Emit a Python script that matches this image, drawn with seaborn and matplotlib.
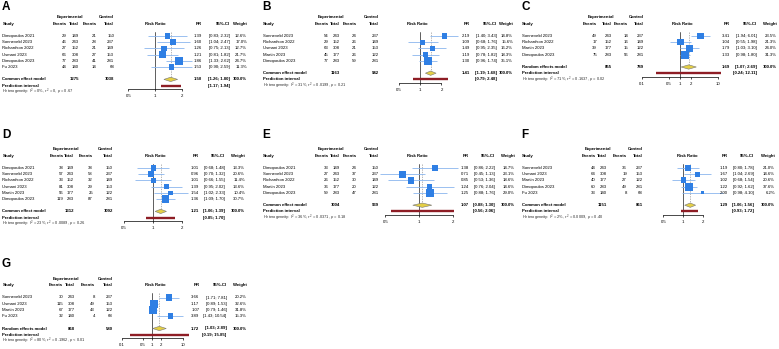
import matplotlib
matplotlib.use("Agg")
import matplotlib.pyplot as plt
from matplotlib.ticker import FixedLocator, NullLocator
import seaborn as sns

# ---------------- data ----------------
# Panel A
a_study = ["Dimopoulos 2021", "Sonneveld 2023", "Richardson 2022", "Usmani 2023", "Dimopoulos 2023", "Fu 2023"]
a_exp_ev = [29, 46, 27, 66, 77, 44]
a_exp_n = [149, 243, 152, 308, 283, 140]
a_ctl_ev = [21, 28, 21, 27, 41, 14]
a_ctl_n = [150, 237, 149, 153, 281, 68]
a_rr = [1.39, 1.60, 1.26, 1.21, 1.86, 1.53]
a_lo = [0.83, 1.04, 0.75, 0.81, 1.33, 0.90]
a_hi = [2.32, 2.47, 2.13, 1.82, 2.62, 2.59]
a_w = [12.6, 17.0, 12.7, 21.7, 24.7, 11.3]
a_pool = [1.50, 1.26, 1.80]
a_pred = [1.17, 1.94]
a_het = r"Heterogeneity: $I^2$ = 0%, $\tau^2$ = 0, $p$ = 0.67"

# Panel B
b_study = ["Sonneveld 2023", "Richardson 2022", "Usmani 2023", "Martin 2023", "Dimopoulos 2023"]
b_exp_ev = [54, 29, 63, 45, 77]
b_exp_n = [243, 152, 308, 177, 283]
b_ctl_ev = [24, 26, 21, 26, 59]
b_ctl_n = [237, 149, 153, 122, 281]
b_rr = [2.19, 1.09, 1.49, 1.19, 1.30]
b_lo = [1.40, 0.68, 0.95, 0.78, 0.96]
b_hi = [3.43, 1.76, 2.35, 1.82, 1.74]
b_w = [14.8, 15.6, 16.2, 18.3, 35.1]
b_pool = [1.41, 1.19, 1.68]
b_pred = [0.79, 2.48]
b_het = r"Heterogeneity: $I^2$ = 31%, $\tau^2$ = 0.0199, $p$ = 0.21"

# Panel C
c_study = ["Sonneveld 2023", "Richardson 2022", "Martin 2023", "Dimopoulos 2023"]
c_exp_ev = [49, 17, 39, 75]
c_exp_n = [243, 152, 177, 283]
c_ctl_ev = [14, 16, 15, 56]
c_ctl_n = [237, 149, 122, 281]
c_rr = [3.41, 1.04, 1.79, 1.33]
c_lo = [1.94, 0.55, 1.03, 0.98]
c_hi = [6.01, 1.98, 3.10, 1.80]
c_w = [23.5, 21.3, 24.0, 31.3]
c_pool = [1.69, 1.07, 2.69]
c_pred = [0.24, 12.11]
c_het = r"Heterogeneity: $I^2$ = 71%, $\tau^2$ = 0.1637, $p$ = 0.02"

# Panel D
d_study = ["Dimopoulos 2021", "Sonneveld 2023", "Richardson 2022", "Usmani 2023", "Martin 2023", "Dimopoulos 2023"]
d_exp_ev = [38, 57, 33, 81, 56, 119]
d_exp_n = [149, 243, 152, 308, 177, 283]
d_ctl_ev = [38, 58, 32, 29, 25, 87]
d_ctl_n = [150, 237, 149, 153, 122, 281]
d_rr = [1.01, 0.96, 1.01, 1.39, 1.54, 1.36]
d_lo = [0.68, 0.70, 0.66, 0.95, 1.02, 1.09]
d_hi = [1.48, 1.32, 1.55, 2.02, 2.33, 1.70]
d_w = [13.3, 20.6, 11.4, 13.6, 10.4, 30.7]
d_pool = [1.21, 1.06, 1.39]
d_pred = [0.85, 1.70]
d_het = r"Heterogeneity: $I^2$ = 23%, $\tau^2$ = 0.0089, $p$ = 0.26"

# Panel E
e_study = ["Dimopoulos 2021", "Sonneveld 2023", "Richardson 2022", "Martin 2023", "Dimopoulos 2023"]
e_exp_ev = [33, 27, 26, 36, 59]
e_exp_n = [149, 243, 152, 177, 283]
e_ctl_ev = [24, 37, 30, 20, 47]
e_ctl_n = [150, 237, 149, 122, 281]
e_rr = [1.38, 0.71, 0.85, 1.24, 1.25]
e_lo = [0.86, 0.45, 0.53, 0.76, 0.88]
e_hi = [2.22, 1.13, 1.36, 2.04, 1.76]
e_w = [14.7, 23.1, 18.6, 14.6, 29.0]
e_pool = [1.07, 0.88, 1.30]
e_pred = [0.56, 2.06]
e_het = r"Heterogeneity: $I^2$ = 36%, $\tau^2$ = 0.0371, $p$ = 0.18"

# Panel F
f_study = ["Sonneveld 2023", "Usmani 2023", "Martin 2023", "Dimopoulos 2023", "Fu 2023"]
f_exp_ev = [44, 64, 40, 60, 33]
f_exp_n = [243, 308, 177, 283, 140]
f_ctl_ev = [36, 19, 27, 49, 8]
f_ctl_n = [237, 153, 122, 281, 68]
f_rr = [1.19, 1.67, 1.02, 1.22, 2.00]
f_lo = [0.80, 1.04, 0.68, 0.92, 0.98]
f_hi = [1.78, 2.69, 1.54, 1.62, 4.10]
f_w = [21.0, 14.6, 20.6, 37.6, 6.2]
f_pool = [1.29, 1.06, 1.56]
f_pred = [0.93, 1.72]
f_het = r"Heterogeneity: $I^2$ = 2%, $\tau^2$ = 0.0009, $p$ = 0.40"

# Panel G
g_study = ["Sonneveld 2023", "Usmani 2023", "Martin 2023", "Fu 2023"]
g_exp_ev = [30, 115, 67, 32]
g_exp_n = [243, 308, 177, 140]
g_ctl_ev = [8, 49, 43, 4]
g_ctl_n = [237, 153, 122, 68]
g_rr = [3.66, 1.17, 1.07, 3.89]
g_lo = [1.71, 0.89, 0.79, 1.43]
g_hi = [7.81, 1.53, 1.46, 10.54]
g_w = [20.2, 32.6, 31.8, 15.3]
g_pool = [1.72, 1.03, 2.89]
g_pred = [0.19, 15.85]
g_het = r"Heterogeneity: $I^2$ = 80%, $\tau^2$ = 0.1962, $p$ < 0.01"

narrow_ticks = [0.5, 1, 2]
narrow_labels = ["0.5", "1", "2"]
wide_ticks = [0.1, 0.5, 1, 2, 10]
wide_labels = ["0.1", "0.5", "1", "2", "10"]

# ---------------- style ----------------
sns.set_theme(style="white")
plt.rcParams["font.family"] = ["Liberation Sans", "DejaVu Sans"]
plt.rcParams["mathtext.fontset"] = "custom"
plt.rcParams["mathtext.rm"] = "Liberation Sans"
plt.rcParams["mathtext.it"] = "Liberation Sans:italic"

W, H = 779, 349
STEP = 6.2
FS = 3.05
SQ_BLUE = "#2f7fe4"
CI_BLUE = "#8ab6ee"
GOLD = "#e4cf45"
DARKRED = "#8e1d25"

fig = plt.figure(figsize=(W / 100, H / 100), dpi=100)


def put(x, y, s, ha="right", bold=False, size=FS, color="black"):
    fig.text(x / W, 1 - y / H, s, ha=ha, va="center", fontsize=size,
             fontweight="bold" if bold else "normal", color=color)


def forest(letter, d, lay):
    n = len(d["study"])
    y0 = lay["y0"]

    def ry(r):
        return y0 + r * STEP

    c = lay["cols"]  # study, exp events, exp total, ctl events, ctl total, rr, ci, weight
    put(c[0] - 0.5, lay["ylab"], letter, ha="left", bold=True, size=8.5)

    # headers
    put((c[1] + c[2]) / 2 - 3, ry(-3), "Experimental", ha="center", bold=True)
    put(c[4], ry(-3), "Control", bold=True)
    put(c[0], ry(-2), "Study", ha="left", bold=True)
    for x, s in zip(c[1:5], ["Events", "Total", "Events", "Total"]):
        put(x, ry(-2), s, bold=True)
    put(lay["rrh"], ry(-2), "Risk Ratio", ha="center", bold=True)
    put(c[5], ry(-2), "RR", bold=True)
    put(c[6], ry(-2), "95%-CI", bold=True)
    put(c[7], ry(-2), "Weight", bold=True)

    # study rows
    for i in range(n):
        y = ry(i)
        put(c[0], y, d["study"][i], ha="left")
        put(c[1], y, str(d["exp_ev"][i]))
        put(c[2], y, str(d["exp_n"][i]))
        put(c[3], y, str(d["ctl_ev"][i]))
        put(c[4], y, str(d["ctl_n"][i]))
        put(c[5], y, f"{d['rr'][i]:.2f}")
        put(c[6], y, f"[{d['lo'][i]:.2f}; {d['hi'][i]:.2f}]")
        put(c[7], y, f"{d['w'][i]:.1f}%")

    # pooled rows
    est, plo, phi = d["pool"]
    put(c[0], ry(n + 1), d["model"], ha="left", bold=True)
    put(c[2], ry(n + 1), str(sum(d["exp_n"])), bold=True)
    put(c[4], ry(n + 1), str(sum(d["ctl_n"])), bold=True)
    put(c[5], ry(n + 1), f"{est:.2f}", bold=True)
    put(c[6], ry(n + 1), f"[{plo:.2f}; {phi:.2f}]", bold=True)
    put(c[7], ry(n + 1), "100.0%", bold=True)
    put(c[0], ry(n + 2), "Prediction interval", ha="left", bold=True)
    put(c[6], ry(n + 2), f"[{d['pred'][0]:.2f}; {d['pred'][1]:.2f}]", bold=True)
    put(c[0], ry(n + 3), d["het"], ha="left", size=FS - 0.2, color="#333333")

    # forest axes
    top_r, bot_r = -0.7, n + 2.6
    p1, k = lay["p1"], lay["k"]
    left, right = p1 - 45, p1 + 45
    ax = fig.add_axes([left / W, 1 - ry(bot_r) / H, (right - left) / W,
                       (bot_r - top_r) * STEP / H])
    ax.set_xscale("log")
    ax.patch.set_alpha(0)
    rows = list(range(n))

    ax.plot([1, 1], [top_r, bot_r], color="#444444", lw=0.6, zorder=1)
    ax.plot([est, est], [top_r, n + 1], color="#999999", lw=0.5, ls=(0, (2, 1.5)), zorder=1)
    ax.hlines(rows, d["lo"], d["hi"], color=CI_BLUE, lw=0.6, zorder=2)
    sns.scatterplot(x=d["rr"], y=rows, size=d["w"], sizes=(0, 32),
                    size_norm=(0, max(d["w"])), marker="s", color=SQ_BLUE,
                    linewidth=0, legend=False, ax=ax, zorder=3)
    m = n + 1
    ax.fill([plo, est, phi, est], [m, m - 0.35, m, m + 0.35],
            facecolor=GOLD, edgecolor="#777777", lw=0.4, zorder=3)
    ax.hlines([n + 2], [d["pred"][0]], [d["pred"][1]], color=DARKRED, lw=1.7, zorder=3)

    for art in ax.get_children():
        try:
            art.set_clip_on(False)
        except AttributeError:
            pass

    ax.set_xlim(10 ** ((left - p1) / k), 10 ** ((right - p1) / k))
    ax.set_ylim(bot_r, top_r)
    for s in ["left", "right", "top"]:
        ax.spines[s].set_visible(False)
    ax.spines["bottom"].set_color("black")
    ax.spines["bottom"].set_linewidth(0.5)
    ax.spines["bottom"].set_bounds(lay["ticks"][0], lay["ticks"][-1])
    ax.xaxis.set_major_locator(FixedLocator(lay["ticks"]))
    ax.xaxis.set_minor_locator(NullLocator())
    ax.set_xticklabels(lay["labels"])
    ax.set_yticks([])
    ax.tick_params(axis="x", bottom=True, direction="out", length=1.5, width=0.5,
                   pad=2.0, labelsize=FS, colors="black")
    ax.set_xlabel("")
    ax.set_ylabel("")


panels = [
    ("A", dict(study=a_study, exp_ev=a_exp_ev, exp_n=a_exp_n, ctl_ev=a_ctl_ev, ctl_n=a_ctl_n,
               rr=a_rr, lo=a_lo, hi=a_hi, w=a_w, pool=a_pool, pred=a_pred, het=a_het,
               model="Common effect model"),
     dict(y0=36, ylab=7, cols=[2.5, 66.5, 79, 96.5, 114, 202, 230, 247], p1=155, k=88.7,
          rrh=155, ticks=narrow_ticks, labels=narrow_labels)),
    ("B", dict(study=b_study, exp_ev=b_exp_ev, exp_n=b_exp_n, ctl_ev=b_ctl_ev, ctl_n=b_ctl_n,
               rr=b_rr, lo=b_lo, hi=b_hi, w=b_w, pool=b_pool, pred=b_pred, het=b_het,
               model="Common effect model"),
     dict(y0=36, ylab=7, cols=[263, 329, 340, 356.7, 379, 470, 496.7, 513], p1=420, k=71.4,
          rrh=417, ticks=narrow_ticks, labels=narrow_labels)),
    ("C", dict(study=c_study, exp_ev=c_exp_ev, exp_n=c_exp_n, ctl_ev=c_ctl_ev, ctl_n=c_ctl_n,
               rr=c_rr, lo=c_lo, hi=c_hi, w=c_w, pool=c_pool, pred=c_pred, het=c_het,
               model="Random effects model"),
     dict(y0=36, ylab=7, cols=[522, 597, 611.7, 628, 644, 729.7, 757, 777], p1=680, k=38,
          rrh=682, ticks=wide_ticks, labels=wide_labels)),
    ("D", dict(study=d_study, exp_ev=d_exp_ev, exp_n=d_exp_n, ctl_ev=d_ctl_ev, ctl_n=d_ctl_n,
               rr=d_rr, lo=d_lo, hi=d_hi, w=d_w, pool=d_pool, pred=d_pred, het=d_het,
               model="Common effect model"),
     dict(y0=168, ylab=135, cols=[2.5, 63.5, 74, 93, 112.7, 199, 225, 245], p1=152.7, k=96.3,
          rrh=155, ticks=narrow_ticks, labels=narrow_labels)),
    ("E", dict(study=e_study, exp_ev=e_exp_ev, exp_n=e_exp_n, ctl_ev=e_ctl_ev, ctl_n=e_ctl_n,
               rr=e_rr, lo=e_lo, hi=e_hi, w=e_w, pool=e_pool, pred=e_pred, het=e_het,
               model="Common effect model"),
     dict(y0=168, ylab=135, cols=[263, 329, 340, 356.7, 379, 469, 495, 515], p1=419, k=112.3,
          rrh=417, ticks=narrow_ticks, labels=narrow_labels)),
    ("F", dict(study=f_study, exp_ev=f_exp_ev, exp_n=f_exp_n, ctl_ev=f_ctl_ev, ctl_n=f_ctl_n,
               rr=f_rr, lo=f_lo, hi=f_hi, w=f_w, pool=f_pool, pred=f_pred, het=f_het,
               model="Common effect model"),
     dict(y0=168, ylab=135, cols=[522, 595.7, 607, 627, 643, 728, 754, 775], p1=683, k=65.4,
          rrh=687, ticks=narrow_ticks, labels=narrow_labels)),
    ("G", dict(study=g_study, exp_ev=g_exp_ev, exp_n=g_exp_n, ctl_ev=g_ctl_ev, ctl_n=g_ctl_n,
               rr=g_rr, lo=g_lo, hi=g_hi, w=g_w, pool=g_pool, pred=g_pred, het=g_het,
               model="Random effects model"),
     dict(y0=297.5, ylab=264, cols=[2.5, 63.3, 75, 95, 113, 199.3, 226.7, 246.7], p1=152.2,
          k=30.5, rrh=155, ticks=wide_ticks, labels=wide_labels)),
]

for letter, d, lay in panels:
    forest(letter, d, lay)

fig.savefig("out.png", dpi=100)
